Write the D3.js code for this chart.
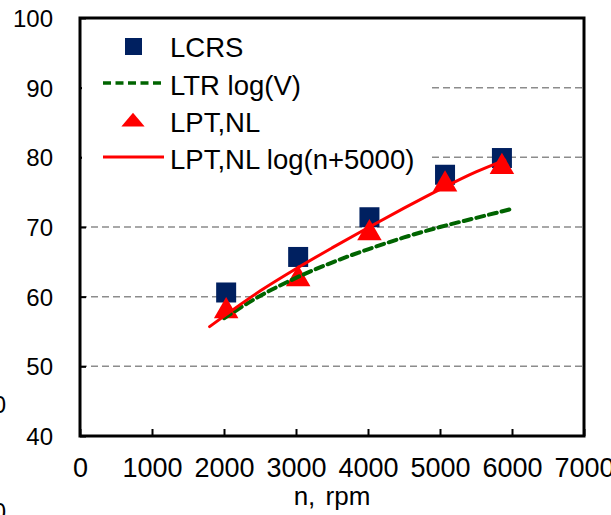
<!DOCTYPE html>
<html>
<head>
<meta charset="utf-8">
<script src="https://cdn.jsdelivr.net/npm/d3@7"></script>
<style>
  html, body { margin: 0; padding: 0; background: #fff; }
  svg { display: block; font-family: "Liberation Sans", Arial, sans-serif; }
</style>
</head>
<body>
<svg id="chart" width="611" height="515"></svg>
<script>
// Measured points (rpm) and the two measured series
const rpmMeasured = [2030, 3030, 4020, 5070, 5860];
const lcrsValues  = [60.6, 65.7, 71.4, 77.5, 79.9];
const lptNlValues = [58.2, 62.8, 69.4, 76.4, 78.9];

// LTR log(V) curve
const ltrRpm    = [2000, 2500, 3000, 3500, 4000, 4500, 5000, 5500, 6000];
const ltrValues = [56.9, 60.1, 62.7, 64.9, 66.8, 68.5, 70.0, 71.3, 72.6];

// LPT,NL log(n+5000) curve
const lptFitRpm    = [1800, 2500, 3000, 3500, 4000, 4500, 5000, 5500, 5900];
const lptFitValues = [55.7, 60.8, 64.0, 67.0, 69.9, 72.7, 75.4, 77.9, 79.6];

// Axes
const xTicks = [0, 1000, 2000, 3000, 4000, 5000, 6000, 7000];
const yTicks = [40, 50, 60, 70, 80, 90, 100];
const gridValues = [50, 60, 70, 80, 90];
const xTitle = "n, rpm";

// Legend entries
const legendLabels = ["LCRS", "LTR log(V)", "LPT,NL", "LPT,NL log(n+5000)"];

// Tick labels of the adjacent panel, clipped by the page edge
const edgeLabels = ["0", "0"];

const COLORS = { lcrs: "#002060", ltr: "#006400", lpt: "#ff0000", grid: "#8c8c8c" };

const svg = d3.select("#chart");
const plotL = 80, plotR = 584, plotT = 18, plotB = 436;

const x = d3.scaleLinear().domain([0, 7000]).range([plotL, plotR]);
const y = d3.scaleLinear().domain([40, 100]).range([plotB, plotT]);

// Dashed horizontal gridlines
svg.append("g").selectAll("line").data(gridValues).join("line")
  .attr("x1", plotL).attr("x2", plotR)
  .attr("y1", d => y(d)).attr("y2", d => y(d))
  .attr("stroke", COLORS.grid).attr("stroke-width", 1.5)
  .attr("stroke-dasharray", "7,4");

// Axes with inward ticks
const xAxis = svg.append("g").attr("transform", `translate(0,${plotB})`)
  .call(d3.axisBottom(x).tickValues(xTicks).tickSize(-7).tickSizeOuter(0).tickFormat(d3.format("d")));
xAxis.select(".domain").remove();
xAxis.selectAll(".tick line").attr("stroke", "#000").attr("stroke-width", 2);
xAxis.selectAll(".tick text")
  .attr("y", 41).attr("dy", null)
  .attr("font-size", 27).attr("fill", "#000");

const yAxis = svg.append("g").attr("transform", `translate(${plotL},0)`)
  .call(d3.axisLeft(y).tickValues(yTicks).tickSize(-6).tickSizeOuter(0).tickFormat(d3.format("d")));
yAxis.select(".domain").remove();
yAxis.selectAll(".tick line").attr("stroke", "#000").attr("stroke-width", 2);
yAxis.selectAll(".tick text")
  .attr("x", -27).attr("dy", "0.36em")
  .attr("font-size", 24).attr("fill", "#000");

// Plot frame
svg.append("rect")
  .attr("x", plotL).attr("y", plotT)
  .attr("width", plotR - plotL).attr("height", plotB - plotT)
  .attr("fill", "none").attr("stroke", "#000").attr("stroke-width", 3);

// Axis title, centred under the plot area
svg.append("text")
  .attr("x", (plotL + plotR) / 2).attr("y", 505)
  .attr("text-anchor", "middle").attr("font-size", 26)
  .attr("word-spacing", 3)
  .text(xTitle);

// Legend (white box over the gridlines)
const legend = svg.append("g");
legend.append("rect")
  .attr("x", plotL + 2).attr("y", plotT + 2)
  .attr("width", 432 - plotL - 2).attr("height", 165)
  .attr("fill", "#fff");
const rowBase = [57, 95, 132, 169];
const textX = 170;
legend.selectAll("text").data(legendLabels).join("text")
  .attr("x", textX).attr("y", (d, i) => rowBase[i])
  .attr("font-size", 27.5).attr("fill", "#000")
  .text(d => d);
legend.append("rect")
  .attr("x", 125).attr("y", rowBase[0] - 19)
  .attr("width", 17).attr("height", 17)
  .attr("fill", COLORS.lcrs);
legend.append("line")
  .attr("x1", 103).attr("x2", 164)
  .attr("y1", rowBase[1] - 12).attr("y2", rowBase[1] - 12)
  .attr("stroke", COLORS.ltr).attr("stroke-width", 3.5)
  .attr("stroke-dasharray", "8,4.5");
legend.append("path")
  .attr("d", d3.symbol().type(d3.symbolTriangle).size(150)())
  .attr("transform", `translate(133,${rowBase[2] - 10}) scale(1.25,0.85)`)
  .attr("fill", COLORS.lpt);
legend.append("line")
  .attr("x1", 103).attr("x2", 164)
  .attr("y1", rowBase[3] - 12).attr("y2", rowBase[3] - 12)
  .attr("stroke", COLORS.lpt).attr("stroke-width", 3);

// LCRS squares
const sq = 20;
svg.append("g").selectAll("rect").data(rpmMeasured).join("rect")
  .attr("x", d => x(d) - sq / 2)
  .attr("y", (d, i) => y(lcrsValues[i]) - sq / 2)
  .attr("width", sq).attr("height", sq)
  .attr("fill", COLORS.lcrs);

// LPT,NL triangles
svg.append("g").selectAll("path").data(rpmMeasured).join("path")
  .attr("d", d3.symbol().type(d3.symbolTriangle).size(260)())
  .attr("transform", (d, i) => `translate(${x(d)},${y(lptNlValues[i]) + 2})`)
  .attr("fill", COLORS.lpt);

// LTR log(V) dashed curve
const ltrLine = d3.line().curve(d3.curveMonotoneX)
  .x(d => x(d)).y((d, i) => y(ltrValues[i]));
svg.append("path").datum(ltrRpm)
  .attr("d", ltrLine)
  .attr("fill", "none").attr("stroke", COLORS.ltr)
  .attr("stroke-width", 4).attr("stroke-dasharray", "8,5")
  .attr("stroke-linecap", "round");

// LPT,NL log(n+5000) curve
const lptLine = d3.line().curve(d3.curveMonotoneX)
  .x(d => x(d)).y((d, i) => y(lptFitValues[i]));
svg.append("path").datum(lptFitRpm)
  .attr("d", lptLine)
  .attr("fill", "none").attr("stroke", COLORS.lpt)
  .attr("stroke-width", 3).attr("stroke-linecap", "round");

// Clipped labels at the left edge
svg.append("g").selectAll("text").data(edgeLabels).join("text")
  .attr("x", 6).attr("y", (d, i) => [413, 520][i])
  .attr("text-anchor", "end").attr("font-size", 24)
  .text(d => d);
</script>
</body>
</html>
